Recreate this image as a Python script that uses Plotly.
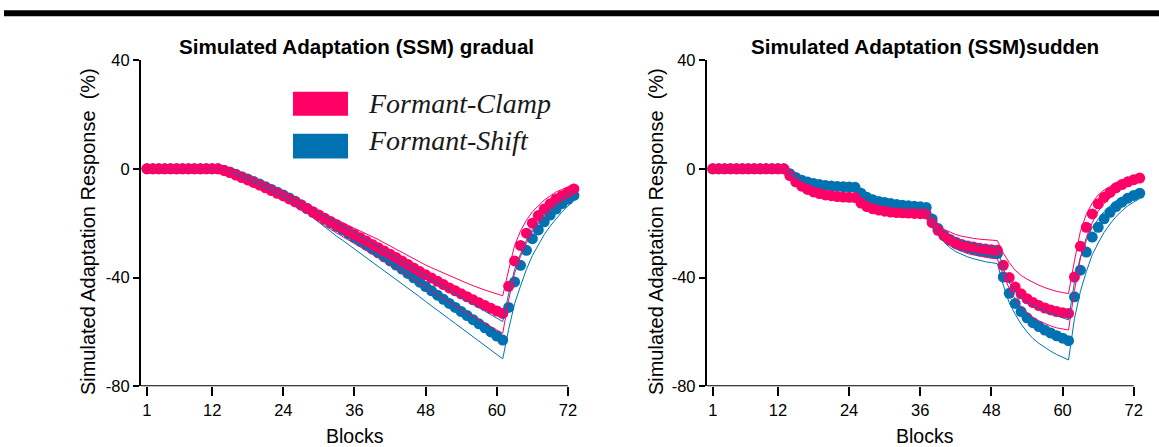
import plotly.graph_objects as go

# ---------------- data ----------------
blocks = list(range(1, 74))
x_ticks = [1, 12, 24, 36, 48, 60, 72]
y_ticks = [40, 0, -40, -80]

# gradual panel – means
grad_clamp = [0, 0, 0, 0, 0, 0, 0, 0, 0, 0, 0, 0, 0,
              -0.6, -1.4, -2.3, -3.2, -4.1, -5.0, -6.0, -7.0, -8.0, -9.0, -10.0, -11.1,
              -12.2, -13.4, -14.6, -15.8, -17.0, -18.2, -19.4, -20.6, -21.8, -23.0, -24.2, -25.4,
              -26.6, -27.8, -29.0, -30.2, -31.4, -32.6, -33.9, -35.2, -36.5, -37.8, -39.0, -40.2,
              -41.4, -42.6, -43.8, -44.9, -46.0, -47.1, -48.2, -49.3, -50.3, -51.3, -52.3, -53.2,
              -43.2, -33.9, -28.2, -23.7, -20.0, -17.2, -14.8, -12.9, -11.1, -9.9, -8.7, -7.4]
grad_shift = [0, 0, 0, 0, 0, 0, 0, 0, 0, 0, 0, 0, 0,
              -0.5, -1.2, -2.0, -2.9, -3.8, -4.7, -5.6, -6.6, -7.6, -8.6, -9.6, -10.7,
              -11.9, -13.2, -14.6, -16.0, -17.3, -18.6, -19.9, -21.2, -22.5, -23.9, -25.3, -26.7,
              -28.1, -29.5, -30.9, -32.4, -33.9, -35.4, -36.9, -38.5, -40.1, -41.7, -43.3, -44.9,
              -46.5, -48.0, -49.5, -51.0, -52.5, -54.0, -55.5, -57.0, -58.5, -60.0, -61.5, -63.0,
              -51.0, -41.6, -35.5, -30.0, -25.7, -22.5, -19.5, -17.0, -14.8, -12.8, -11.2, -9.8]
# gradual panel – band offsets (above / below the mean)
grad_clamp_up = [0, 0, 0, 0, 0, 0, 0, 0, 0, 0, 0, 0, 0,
                 0.1, 0.2, 0.3, 0.4, 0.5, 0.5, 0.6, 0.6, 0.7, 0.7, 0.8, 0.8,
                 0.9, 1.0, 1.1, 1.2, 1.3, 1.5, 1.7, 1.9, 2.1, 2.3, 2.5, 2.7,
                 2.8, 2.9, 3.0, 3.0, 3.0, 3.0, 3.0, 3.1, 3.2, 3.4, 3.6, 3.8,
                 4.0, 4.2, 4.4, 4.6, 4.8, 5.0, 5.2, 5.4, 5.7, 6.0, 6.3, 6.5,
                 6.0, 5.7, 5.3, 4.8, 4.2, 3.7, 3.3, 2.9, 2.6, 2.3, 2.0, 1.8]
grad_clamp_dn = [0, 0, 0, 0, 0, 0, 0, 0, 0, 0, 0, 0, 0,
                 0.1, 0.2, 0.3, 0.4, 0.5, 0.5, 0.6, 0.6, 0.7, 0.8, 0.9, 1.0,
                 1.2, 1.5, 1.9, 2.3, 2.6, 2.8, 2.9, 3.0, 3.0, 3.0, 3.1, 3.2,
                 3.3, 3.4, 3.5, 3.6, 3.7, 3.8, 3.9, 4.0, 4.2, 4.4, 4.6, 4.8,
                 5.0, 5.2, 5.4, 5.6, 5.8, 6.0, 6.2, 6.4, 6.6, 6.8, 7.0, 7.3,
                 5.0, 4.5, 4.0, 3.6, 3.2, 2.9, 2.6, 2.3, 2.1, 1.9, 1.7, 1.5]
grad_shift_up = [0, 0, 0, 0, 0, 0, 0, 0, 0, 0, 0, 0, 0,
                 0.1, 0.2, 0.3, 0.4, 0.5, 0.5, 0.6, 0.6, 0.7, 0.7, 0.8, 0.8,
                 0.8, 0.9, 1.0, 1.1, 1.2, 1.3, 1.4, 1.5, 1.6, 1.7, 1.8, 1.9,
                 2.0, 2.2, 2.4, 2.6, 2.8, 3.0, 3.2, 3.4, 3.6, 3.8, 4.0, 4.2,
                 4.4, 4.6, 4.8, 5.0, 5.2, 5.4, 5.6, 5.8, 6.0, 6.2, 6.5, 6.8,
                 5.0, 4.6, 4.2, 3.8, 3.4, 3.0, 2.7, 2.4, 2.1, 1.8, 1.5, 1.3]
grad_shift_dn = [0, 0, 0, 0, 0, 0, 0, 0, 0, 0, 0, 0, 0,
                 0.1, 0.2, 0.3, 0.3, 0.4, 0.4, 0.5, 0.5, 0.6, 0.6, 0.7, 0.8,
                 1.0, 1.4, 1.8, 2.2, 2.6, 3.0, 3.4, 3.6, 3.8, 4.0, 4.2, 4.4,
                 4.5, 4.6, 4.7, 4.8, 4.9, 5.0, 5.1, 5.2, 5.3, 5.4, 5.5, 5.6,
                 5.6, 5.7, 5.8, 5.9, 6.0, 6.1, 6.2, 6.3, 6.4, 6.6, 6.8, 6.9,
                 8.0, 8.0, 7.6, 7.0, 6.2, 5.4, 4.7, 4.1, 3.5, 3.0, 2.5, 2.0]

# sudden panel – means
sud_clamp = [0, 0, 0, 0, 0, 0, 0, 0, 0, 0, 0, 0, 0,
             -2.5, -4.8, -6.4, -7.6, -8.5, -9.1, -9.6, -9.9, -10.2, -10.4, -10.5, -10.6,
             -12.6, -13.9, -14.7, -15.2, -15.6, -15.9, -16.1, -16.2, -16.3, -16.4, -16.5, -16.6,
             -19.8, -22.6, -24.6, -26.0, -27.0, -27.8, -28.4, -28.8, -29.2, -29.5, -29.8, -30.0,
             -35.5, -40.0, -43.5, -46.0, -47.8, -49.2, -50.3, -51.2, -51.9, -52.5, -52.9, -53.2,
             -39.8, -28.5, -21.5, -16.6, -12.9, -10.5, -8.7, -7.0, -5.8, -4.8, -4.0, -3.4]
sud_shift = [0, 0, 0, 0, 0, 0, 0, 0, 0, 0, 0, 0, 0,
             -1.8, -3.2, -4.2, -4.9, -5.4, -5.8, -6.1, -6.3, -6.5, -6.6, -6.7, -6.8,
             -9.0, -10.5, -11.4, -12.0, -12.4, -12.8, -13.1, -13.4, -13.6, -13.8, -14.0, -14.2,
             -18.5, -22.0, -24.5, -26.2, -27.5, -28.4, -29.1, -29.7, -30.2, -30.6, -30.9, -31.2,
             -39.8, -45.8, -49.5, -52.5, -54.8, -56.6, -58.0, -59.3, -60.4, -61.4, -62.3, -63.2,
             -47.1, -37.3, -30.6, -25.1, -21.5, -18.4, -16.0, -13.9, -12.3, -10.8, -9.8, -9.0]
# sudden panel – band offsets
sud_clamp_up = [0, 0, 0, 0, 0, 0, 0, 0, 0, 0, 0, 0, 0,
                0.3, 0.5, 0.6, 0.7, 0.8, 0.8, 0.9, 0.9, 0.9, 1.0, 1.0, 1.0,
                1.0, 1.1, 1.1, 1.2, 1.2, 1.2, 1.3, 1.3, 1.3, 1.3, 1.3, 1.3,
                1.5, 1.9, 2.3, 2.6, 2.8, 3.0, 3.1, 3.2, 3.3, 3.4, 3.5, 3.6,
                4.5, 5.5, 6.2, 6.8, 7.2, 7.4, 7.5, 7.5, 7.5, 7.4, 7.4, 7.3,
                6.0, 5.5, 4.8, 4.0, 3.3, 2.7, 2.2, 1.9, 1.6, 1.4, 1.2, 1.0]
sud_clamp_dn = [0, 0, 0, 0, 0, 0, 0, 0, 0, 0, 0, 0, 0,
                0.3, 0.5, 0.7, 0.8, 0.9, 1.0, 1.0, 1.1, 1.1, 1.2, 1.2, 1.2,
                1.2, 1.3, 1.3, 1.4, 1.4, 1.4, 1.5, 1.5, 1.5, 1.5, 1.5, 1.5,
                1.5, 1.8, 2.1, 2.3, 2.5, 2.7, 2.8, 2.9, 3.0, 3.0, 3.1, 3.1,
                3.5, 4.0, 4.4, 4.8, 5.1, 5.4, 5.6, 5.8, 5.9, 6.0, 6.1, 6.1,
                5.0, 4.4, 3.8, 3.2, 2.7, 2.3, 2.0, 1.7, 1.5, 1.3, 1.1, 1.0]
sud_shift_up = [0, 0, 0, 0, 0, 0, 0, 0, 0, 0, 0, 0, 0,
                0.2, 0.3, 0.4, 0.5, 0.5, 0.5, 0.6, 0.6, 0.6, 0.6, 0.6, 0.6,
                0.7, 0.8, 0.8, 0.9, 0.9, 0.9, 0.9, 1.0, 1.0, 1.0, 1.0, 1.0,
                1.2, 1.4, 1.6, 1.8, 1.9, 2.0, 2.1, 2.2, 2.2, 2.3, 2.3, 2.4,
                3.0, 3.8, 4.5, 5.2, 5.8, 6.3, 6.7, 7.0, 7.2, 7.4, 7.5, 7.6,
                5.5, 4.8, 4.2, 3.6, 3.1, 2.7, 2.4, 2.1, 1.8, 1.6, 1.4, 1.2]
sud_shift_dn = [0, 0, 0, 0, 0, 0, 0, 0, 0, 0, 0, 0, 0,
                0.2, 0.3, 0.4, 0.5, 0.5, 0.6, 0.6, 0.6, 0.7, 0.7, 0.7, 0.7,
                0.8, 0.9, 1.0, 1.0, 1.1, 1.1, 1.1, 1.2, 1.2, 1.2, 1.2, 1.2,
                1.6, 2.1, 2.5, 2.8, 3.0, 3.2, 3.3, 3.4, 3.5, 3.6, 3.6, 3.7,
                3.0, 3.5, 4.0, 4.6, 5.2, 5.8, 6.2, 6.5, 6.7, 6.9, 7.0, 7.1,
                8.0, 7.8, 7.2, 6.5, 5.8, 5.0, 4.3, 3.7, 3.2, 2.8, 2.4, 2.0]

titles = ["Simulated Adaptation (SSM) gradual", "Simulated Adaptation (SSM)sudden"]
legend_names = ["Formant-Clamp", "Formant-Shift"]
x_title = "Blocks"
y_title = "Simulated Adaptation Response  (%)"

# ---------------- style ----------------
PINK = "#FF0066"
BLUE = "#0072B2"
W = 1159
FH = 455                  # figure height
Y_SCALE, Y_OFF = 0.9655, 7.7   # observed vertical mapping figure -> photo
SANS = "Arial, Liberation Sans, sans-serif"
SERIF = "Times New Roman, Liberation Serif, serif"


def px(x):
    return x / W


def py(y):
    # y is a target pixel row in the photo
    return 1 - ((y - Y_OFF) / Y_SCALE) / FH


PX_PER_BLOCK = 5.93
XMAX = 73.8
left_edges = [141.0, 706.8]
top_px, bot_px = 59.0, 387.0

fig = go.Figure()

panels = [
    (grad_clamp, grad_clamp_up, grad_clamp_dn, grad_shift, grad_shift_up, grad_shift_dn),
    (sud_clamp, sud_clamp_up, sud_clamp_dn, sud_shift, sud_shift_up, sud_shift_dn),
]

for i, (cm, cu, cd, sm, su, sd) in enumerate(panels):
    xa = "x" if i == 0 else "x2"
    ya = "y" if i == 0 else "y2"
    for mean, col, name in [(sm, BLUE, legend_names[1]), (cm, PINK, legend_names[0])]:
        fig.add_trace(go.Scatter(x=blocks, y=mean, mode="markers", name=name,
                                 marker=dict(color=col, size=11, line=dict(width=0)),
                                 xaxis=xa, yaxis=ya, showlegend=False, cliponaxis=False))
    for mean, up, dn, col in [(sm, su, sd, BLUE), (cm, cu, cd, PINK)]:
        upper = [m + u for m, u in zip(mean, up)]
        lower = [m - d for m, d in zip(mean, dn)]
        for band in (upper, lower):
            fig.add_trace(go.Scatter(x=blocks, y=band, mode="lines",
                                     line=dict(color=col, width=1),
                                     xaxis=xa, yaxis=ya, showlegend=False,
                                     hoverinfo="skip"))

axis_common_x = dict(range=[0, XMAX], tickvals=x_ticks, ticktext=[str(t) for t in x_ticks],
                     ticks="outside", ticklen=9, tickwidth=2, tickcolor="black",
                     showline=False, showgrid=False, zeroline=False,
                     tickfont=dict(family=SANS, size=16.5, color="black"))
axis_common_y = dict(range=[-80, 40], tickvals=y_ticks, ticktext=[str(t) for t in y_ticks],
                     ticks="outside", ticklen=6, tickwidth=2, tickcolor="black",
                     showline=True, linewidth=2, linecolor="black",
                     showgrid=False, zeroline=False,
                     tickfont=dict(family=SANS, size=16.5, color="black"))

dom_y = [py(bot_px), py(top_px)]
fig.update_layout(
    xaxis=dict(domain=[px(left_edges[0]), px(left_edges[0] + XMAX * PX_PER_BLOCK)],
               anchor="y", **axis_common_x),
    yaxis=dict(domain=dom_y, anchor="x", **axis_common_y),
    xaxis2=dict(domain=[px(left_edges[1]), px(left_edges[1] + XMAX * PX_PER_BLOCK)],
                anchor="y2", **axis_common_x),
    yaxis2=dict(domain=dom_y, anchor="x2", **axis_common_y),
    width=W, height=FH,
    margin=dict(l=0, r=0, t=0, b=0),
    paper_bgcolor="white", plot_bgcolor="white",
    showlegend=False,
)

shapes = []
for xa, ya in [("x", "y"), ("x2", "y2")]:
    shapes.append(dict(type="line", xref=xa, yref=ya, x0=0, x1=x_ticks[-1], y0=-80, y1=-80,
                       line=dict(color="black", width=2)))
# top black bar
shapes.append(dict(type="rect", xref="paper", yref="paper", x0=px(4), x1=1,
                   y0=py(15), y1=py(9), fillcolor="black", line=dict(width=0)))
# legend swatches
shapes.append(dict(type="rect", xref="paper", yref="paper", x0=px(293), x1=px(348),
                   y0=py(115), y1=py(91), fillcolor=PINK, line=dict(width=0)))
shapes.append(dict(type="rect", xref="paper", yref="paper", x0=px(293), x1=px(348),
                   y0=py(158), y1=py(133), fillcolor=BLUE, line=dict(width=0)))
fig.update_layout(shapes=shapes)

ann = []
for cx, t in zip([356, 925], titles):
    ann.append(dict(text="<b>%s</b>" % t, x=px(cx), y=py(45), xref="paper", yref="paper",
                    showarrow=False, xanchor="center", yanchor="middle",
                    font=dict(family=SANS, size=20.6, color="black")))
for cx in [355, 925]:
    ann.append(dict(text=x_title, x=px(cx), y=py(437), xref="paper", yref="paper",
                    showarrow=False, xanchor="center", yanchor="middle",
                    font=dict(family=SANS, size=19.5, color="black")))
for cx in [88, 656]:
    ann.append(dict(text=y_title, x=px(cx), y=py(232), xref="paper", yref="paper",
                    showarrow=False, xanchor="center", yanchor="middle", textangle=-90,
                    font=dict(family=SANS, size=20, color="black")))
for cy, name in zip([103, 140], legend_names):
    ann.append(dict(text="<i>%s</i>" % name, x=px(366), y=py(cy), xref="paper", yref="paper",
                    showarrow=False, xanchor="left", yanchor="middle",
                    font=dict(family=SERIF, size=28, color="#1a1a1a")))
fig.update_layout(annotations=ann)

fig.write_html("out.html")
